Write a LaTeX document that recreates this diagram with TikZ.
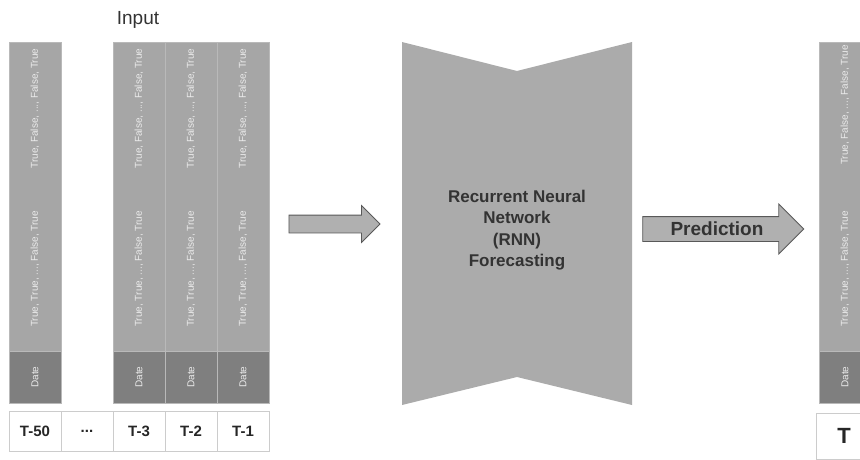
\documentclass[tikz,border=0pt]{standalone}
\usepackage{fontspec}
\setmainfont{Liberation Sans}
\usetikzlibrary{positioning,shapes.arrows}

\definecolor{colgray}{HTML}{A6A6A6}
\definecolor{dategray}{HTML}{7F7F7F}
\definecolor{edgegray}{HTML}{B9B9B9}
\definecolor{boxedge}{HTML}{CCCCCC}
\definecolor{rnngray}{HTML}{ABABAB}
\definecolor{arrowgray}{HTML}{B0B0B0}
\definecolor{darktext}{HTML}{333333}

\tikzset{
  col/.style={fill=colgray, draw=edgegray, line width=.6pt, minimum width=52pt,
    minimum height=309pt, inner sep=0pt, outer sep=0pt},
  datecell/.style={fill=dategray, draw=edgegray, line width=.6pt, minimum width=52pt,
    minimum height=52pt, inner sep=0pt, outer sep=0pt},
  coltext/.style={rotate=90, text=white!92!black, inner sep=0pt, font=\fontsize{10}{12}\selectfont},
  lbl/.style={draw=boxedge, line width=.8pt, fill=white, minimum width=52pt,
    minimum height=40pt, inner sep=0pt, outer sep=0pt, text=black!85,
    font=\bfseries\fontsize{15}{18}\selectfont},
  blockarrow/.style={single arrow, draw=black!65, fill=arrowgray, line width=.8pt,
    single arrow tip angle=90, inner xsep=0pt}
}

\begin{document}
\begin{tikzpicture}[x=1pt,y=-1pt]
\useasboundingbox (0,0) rectangle (860,460);
\clip (0,0) rectangle (860,460);

\node[anchor=base, text=black!80, font=\fontsize{19}{22}\selectfont] (inputlbl) at (138,25) {Input};

% input columns
\foreach \cx/\nm in {35/a, 139/b, 191/c, 243/d} {
  \node[col] (\nm) at (\cx,196.5) {};
  \node[datecell, below=0pt of \nm] (\nm-date) {};
  \node[coltext] (\nm-up) at ([yshift=-66.5pt]\nm.north) {True, False, ..., False, True};
  \node[coltext] (\nm-low) at ([yshift=-227pt]\nm.north) {True, True, ..., False, True};
  \node[coltext] at (\nm-date) {Date};
}

% time steps
\node[lbl, below=8pt of a-date] (t50) {T-50};
\node[lbl, right=0pt of t50] (tdots) {...};
\node[lbl, right=0pt of tdots] (t3) {T-3};
\node[lbl, right=0pt of t3] (t2) {T-2};
\node[lbl, right=0pt of t2] (t1) {T-1};

\node[blockarrow, minimum height=91pt, inner ysep=8.5pt, single arrow head extend=9.5pt] (inarr) at (330,224) {};

% network
\fill[rnngray] (402,42) -- (517,71) -- (632,42) -- (632,405) -- (517,377) -- (402,405) -- cycle;
\node[align=center, text=darktext, font=\bfseries\fontsize{17}{21.5}\selectfont] (rnn) at (517,230)
  {Recurrent Neural\\Network\\(RNN)\\Forecasting};

\node[blockarrow, minimum height=161pt, text height=13pt, text depth=0pt, inner ysep=5.5pt,
  single arrow head extend=12.5pt, text=darktext, font=\bfseries\fontsize{19}{22}\selectfont] (pred) at (717,229) {Prediction};

% output column
\node[col] (e) at (845,196.5) {};
\node[datecell, below=0pt of e] (e-date) {};
\node[coltext] (e-up) at ([yshift=-63pt]e.north) {True, False, ..., False, True};
\node[coltext] (e-low) at ([yshift=-227pt]e.north) {True, True, ..., False, True};
\node[coltext] at (e-date) {Date};
\node[lbl, below=10pt of e-date, xshift=-1pt, minimum width=56pt, minimum height=46pt,
  font=\bfseries\fontsize{22}{26}\selectfont] (tnow) {T};
\end{tikzpicture}
\end{document}
